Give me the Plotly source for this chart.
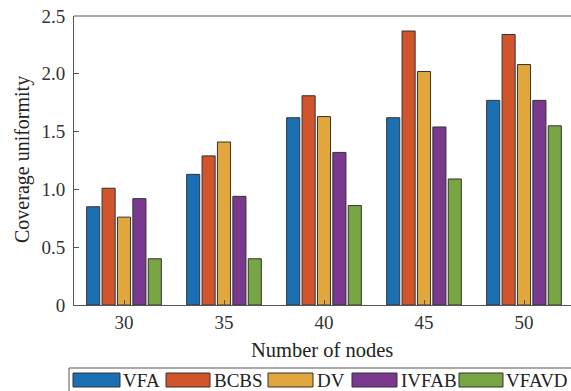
import plotly.graph_objects as go

# Coverage uniformity per algorithm versus network size
nodes = ["30", "35", "40", "45", "50"]
algorithms = ["VFA", "BCBS", "DV", "IVFAB", "VFAVD"]
vfa = [0.85, 1.13, 1.62, 1.62, 1.77]
bcbs = [1.01, 1.29, 1.81, 2.37, 2.34]
dv = [0.76, 1.41, 1.63, 2.02, 2.08]
ivfab = [0.92, 0.94, 1.32, 1.54, 1.77]
vfavd = [0.40, 0.40, 0.86, 1.09, 1.55]
y_ticks = [0, 0.5, 1.0, 1.5, 2.0, 2.5]
y_tick_labels = ["0", "0.5", "1.0", "1.5", "2.0", "2.5"]

series = [vfa, bcbs, dv, ivfab, vfavd]
colors = ["#1b6fb3", "#d1542c", "#e2a73c", "#7a388e", "#77a543"]
edge = "#333333"
font = "Liberation Serif"

W, H = 571, 391
L, R, T, B = 74, 0, 16, 86
plot_w = W - L - R
plot_h = H - T - B

fig = go.Figure()
for name, vals, col in zip(algorithms, series, colors):
    fig.add_trace(go.Bar(
        x=nodes, y=vals, name=name,
        marker=dict(color=col, line=dict(color=edge, width=1)),
        showlegend=False,
    ))

# Pixel -> paper coordinate helpers (paper spans the plot area)
def px(x):
    return (x - L) / plot_w
def py(y):
    return (H - B - y) / plot_h

# Boxed legend with wide swatches along the bottom
legend_items = [  # (swatch x0, swatch x1, text x) in pixels
    (73, 120, 121),
    (166, 210, 212),
    (268, 313, 315),
    (352, 397, 399),
    (459, 503, 504),
]
shapes = [dict(type="rect", xref="paper", yref="paper",
               x0=px(69), x1=px(575), y0=py(368), y1=py(393),
               line=dict(color="#555555", width=1), fillcolor="white")]
annotations = []
for (x0, x1, tx), name, col in zip(legend_items, algorithms, colors):
    shapes.append(dict(type="rect", xref="paper", yref="paper",
                       x0=px(x0), x1=px(x1), y0=py(373), y1=py(387),
                       line=dict(color=edge, width=1), fillcolor=col))
    annotations.append(dict(xref="paper", yref="paper", x=px(tx), y=py(380),
                            text=name, showarrow=False, xanchor="left",
                            yanchor="middle",
                            font=dict(family=font, size=19, color="#222222")))

annotations.append(dict(xref="paper", yref="paper", x=px(322), y=py(350),
                        text="Number of nodes", showarrow=False,
                        xanchor="center", yanchor="middle",
                        font=dict(family=font, size=20.5, color="#222222")))
annotations.append(dict(xref="paper", yref="paper", x=px(22), y=py(160),
                        text="Coverage uniformity", showarrow=False,
                        textangle=-90, xanchor="center", yanchor="middle",
                        font=dict(family=font, size=20, color="#222222")))

# Top frame line
shapes.append(dict(type="line", xref="paper", yref="paper",
                   x0=0, x1=1, y0=1, y1=1,
                   line=dict(color="#555555", width=1)))

fig.update_layout(
    width=W, height=H,
    margin=dict(l=L, r=R, t=T, b=B),
    paper_bgcolor="white", plot_bgcolor="white",
    barmode="group", bargap=0.23, bargroupgap=0.15,
    font=dict(family=font, size=19, color="#333333"),
    shapes=shapes, annotations=annotations,
    xaxis=dict(
        type="category", range=[-0.5, 4.47],
        showline=True, linecolor="#555555", linewidth=1,
        ticks="inside", ticklen=5, tickcolor="#555555",
        ticklabelstandoff=0, showgrid=False, zeroline=False,
        tickfont=dict(family=font, size=19, color="#333333"),
    ),
    yaxis=dict(
        range=[0, 2.5], tickvals=y_ticks, ticktext=y_tick_labels,
        showline=True, linecolor="#555555", linewidth=1,
        ticks="inside", ticklen=5, tickcolor="#555555",
        ticklabelstandoff=4, showgrid=False, zeroline=False,
        tickfont=dict(family=font, size=19, color="#333333"),
    ),
)

fig.write_html("out.html")
